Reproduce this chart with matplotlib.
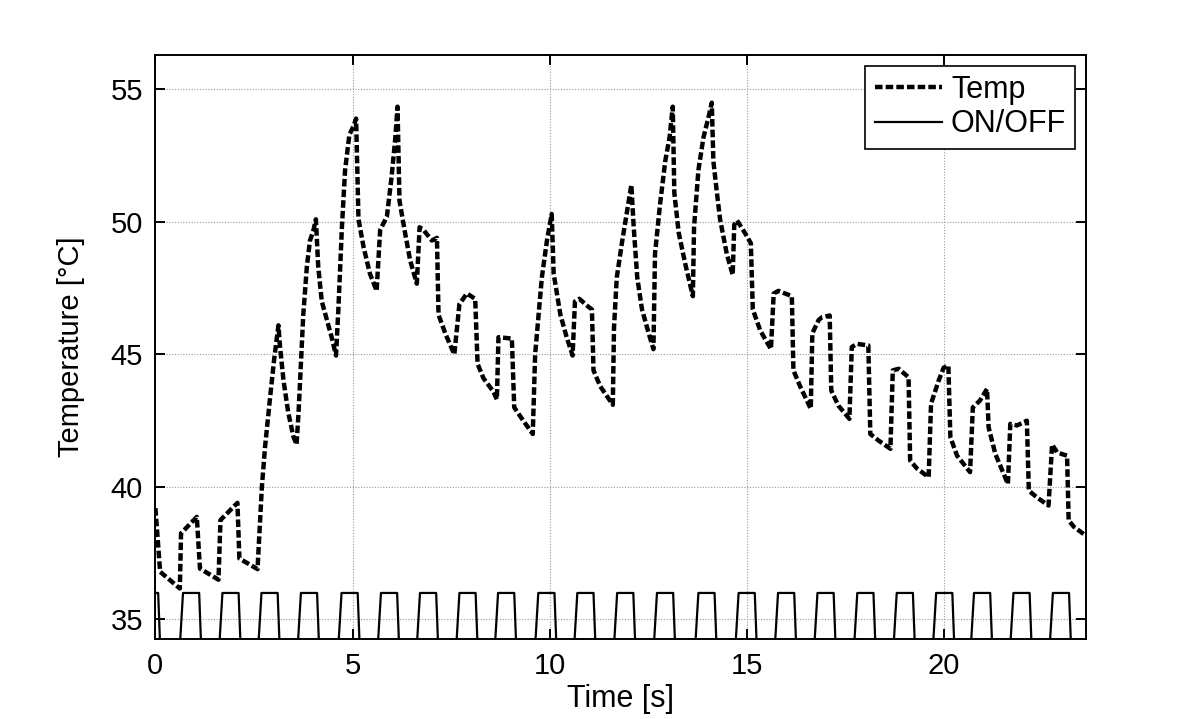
import numpy as np
import matplotlib
matplotlib.use("Agg")
from matplotlib import pyplot as plt

plt.rcParams['font.family'] = ['Liberation Sans', 'DejaVu Sans']

# temperatur (Temp)
temp_t = [0.00, 0.12, 0.62, 0.65, 1.05, 1.13, 1.60, 1.65, 2.08, 2.13, 2.59, 2.70, 2.78, 2.91,
          3.01, 3.12, 3.16, 3.25, 3.37, 3.50, 3.58, 3.63, 3.69, 3.75, 3.84, 3.92, 4.01, 4.07,
          4.13, 4.22, 4.35, 4.47, 4.58, 4.64, 4.73, 4.81, 4.92, 5.02, 5.09, 5.15, 5.28, 5.44,
          5.61, 5.70, 5.87, 5.99, 6.08, 6.14, 6.19, 6.33, 6.46, 6.63, 6.70, 6.80, 7.01, 7.14,
          7.18, 7.35, 7.58, 7.71, 7.90, 8.11, 8.17, 8.32, 8.57, 8.66, 8.70, 9.04, 9.10, 9.33,
          9.57, 9.63, 9.80, 9.93, 10.05, 10.10, 10.27, 10.43, 10.58, 10.64, 10.75, 10.98, 11.07,
          11.11, 11.28, 11.60, 11.63, 11.70, 11.83, 11.96, 12.07, 12.13, 12.22, 12.34, 12.51,
          12.63, 12.67, 12.80, 12.93, 13.04, 13.12, 13.16, 13.27, 13.44, 13.63, 13.66, 13.77,
          13.90, 14.03, 14.11, 14.15, 14.24, 14.32, 14.49, 14.64, 14.68, 14.75, 14.96, 15.10,
          15.15, 15.34, 15.61, 15.68, 15.80, 16.14, 16.18, 16.35, 16.62, 16.66, 16.82, 16.90,
          17.10, 17.14, 17.32, 17.60, 17.66, 17.79, 18.08, 18.13, 18.34, 18.64, 18.70, 18.85,
          19.10, 19.14, 19.31, 19.61, 19.67, 19.86, 19.99, 20.11, 20.16, 20.33, 20.66, 20.73,
          20.91, 21.09, 21.13, 21.30, 21.62, 21.68, 21.85, 22.10, 22.15, 22.36, 22.65, 22.74,
          22.87, 23.12, 23.16, 23.29, 23.58]
temp_v = [39.2, 36.8, 36.17, 38.25, 38.87, 36.92, 36.5, 38.75, 39.4, 37.3, 36.9, 40.0, 41.5, 43.4,
          44.8, 46.1, 45.3, 44.0, 42.8, 41.9, 41.6, 42.8, 44.65, 46.5, 48.3, 49.3, 49.7, 50.1,
          48.3, 47.0, 46.3, 45.65, 44.96, 46.7, 49.8, 51.95, 53.3, 53.6, 53.9, 50.1, 49.05, 48.05,
          47.4, 49.7, 50.2, 51.7, 53.1, 54.35, 50.8, 49.6, 48.55, 47.67, 49.8, 49.7, 49.3, 49.4,
          46.5, 45.8, 45.0, 46.9, 47.3, 47.1, 44.65, 44.1, 43.6, 43.3, 45.65, 45.6, 43.0, 42.5,
          42.0, 45.0, 47.9, 49.3, 50.3, 48.05, 46.5, 45.65, 44.96, 47.0, 47.1, 46.8, 46.7,
          44.4, 43.8, 43.1, 46.0, 47.9, 49.2, 50.4, 51.4, 49.8, 47.9, 46.7, 45.8,
          45.2, 48.8, 50.7, 52.3, 53.2, 54.35, 51.1, 49.6, 48.4, 47.2, 49.8, 51.95,
          53.2, 53.97, 54.5, 52.3, 51.1, 50.1, 48.8, 48.0, 49.9, 50.06, 49.56, 49.2,
          46.7, 45.9, 45.2, 47.3, 47.4, 47.2, 44.4, 43.8, 42.95, 45.8, 46.3, 46.4,
          46.47, 43.64, 43.07, 42.57, 45.28, 45.4, 45.34, 42.0, 41.75, 41.44, 44.4, 44.46,
          44.14, 41.0, 40.7, 40.37, 43.14, 44.0, 44.5, 44.58, 41.88, 41.18, 40.56, 43.0,
          43.26, 43.7, 42.25, 41.25, 40.11, 42.38, 42.32, 42.5, 39.86, 39.6, 39.3, 41.6,
          41.3, 41.18, 38.74, 38.5, 38.18]

# ON/OFF: einschalt- und ausschaltzeitpunkte der pulse
onoff_on = [-0.45, 0.62, 1.62, 2.61, 3.61, 4.64, 5.64, 6.63, 7.63, 8.61, 9.63, 10.62, 11.63,
            12.64, 13.69, 14.71, 15.71, 16.71, 17.72, 18.72, 19.72, 20.68, 21.68, 22.68]
onoff_off = [0.12, 1.16, 2.16, 3.15, 4.15, 5.18, 6.18, 7.17, 8.17, 9.15, 10.17, 11.16, 12.17,
             13.18, 14.23, 15.25, 16.25, 17.25, 18.26, 19.26, 20.26, 21.22, 22.22, 23.22]
level_on = 36.0
level_off = 34.0
ramp_up = 0.08
ramp_down = 0.05

# trapez-signal aus den pulszeiten
sig_t = [0.0]
sig_v = [level_off]
for t_on, t_off in zip(onoff_on, onoff_off):
    sig_t += [t_on, t_on + ramp_up, t_off - ramp_down, t_off]
    sig_v += [level_off, level_on, level_on, level_off]
sig_t.append(24.0)
sig_v.append(level_off)

fig = plt.figure(figsize=(12, 7.19), dpi=100)
ax = fig.add_axes([0.1295, 0.1108, 0.7755, 0.8127])

ax.plot(temp_t, temp_v, color='k', linewidth=3.2, linestyle=(0, (1.7, 0.7)), label='Temp')
ax.plot(sig_t, sig_v, color='k', linewidth=1.6, label='ON/OFF')

ax.set_xlim(0, 23.6)
ax.set_ylim(34.25, 56.3)
ax.set_xticks([0, 5, 10, 15, 20])
ax.set_yticks([35, 40, 45, 50, 55])
ax.grid(True, linestyle=(0, (1, 1.5)), color='0.6', linewidth=0.8)
ax.tick_params(direction='in', top=True, right=True, length=7, width=1.4,
               labelsize=21, pad=9)
for s in ax.spines.values():
    s.set_linewidth(1.4)

ax.set_xlabel('Time [s]', fontsize=22, labelpad=3)
ax.set_ylabel('Temperature [°C]', fontsize=21, labelpad=18)

leg = ax.legend(loc='upper right', fontsize=22, handlelength=2.2, handletextpad=0.3,
                borderaxespad=0.35, fancybox=False, framealpha=1, edgecolor='k',
                borderpad=0.3, labelspacing=0.15)
leg.get_frame().set_linewidth(1.2)

fig.savefig('out.png', dpi=100)
